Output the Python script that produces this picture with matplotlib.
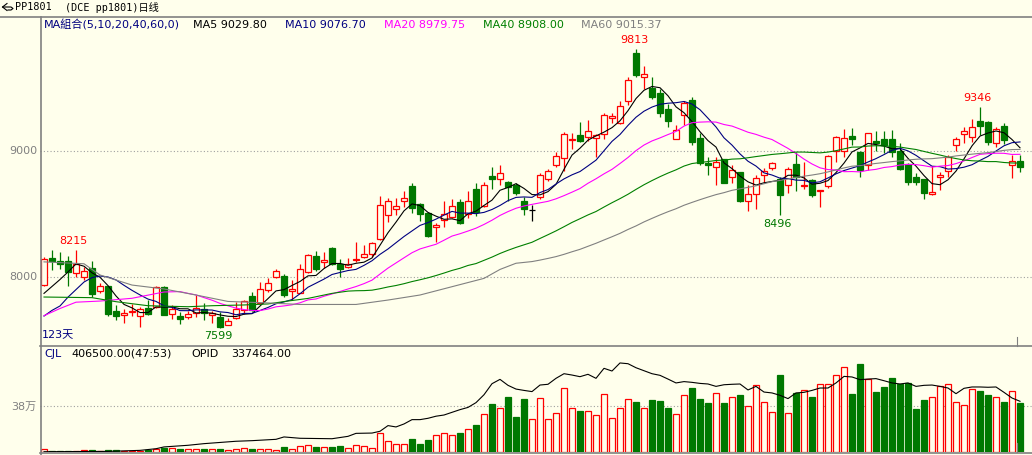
import matplotlib
matplotlib.use('Agg')
import matplotlib.pyplot as plt
from matplotlib.patches import Rectangle
import numpy as np
import pandas as pd

# PP1801 daily candles, 123 trading days (oldest first)
opens = [7940, 8150, 8125, 8125, 8029, 7997, 8071, 7886, 7928, 7730,
         7696, 7722, 7688, 7754, 7764, 7918, 7706, 7690, 7680, 7717,
         7743, 7696, 7685, 7622, 7672, 7738, 7849, 7791, 7897, 7997,
         8005, 7886, 7875, 8037, 8166, 8119, 8227, 8100, 8076, 8132,
         8161, 8179, 8298, 8489, 8537, 8605, 8722, 8579, 8507, 8394,
         8449, 8478, 8595, 8500, 8695, 8563, 8801, 8775, 8754, 8732,
         8605, 8532, 8633, 8781, 8892, 8945, 9088, 9127, 9114, 9104,
         9135, 9260, 9225, 9395, 9781, 9591, 9501, 9458, 9331, 9098,
         9284, 9405, 9104, 8908, 8876, 8934, 8797, 8834, 8606, 8659,
         8813, 8863, 8781, 8728, 8897, 8723, 8770, 8680, 8723, 8998,
         8998, 9119, 8992, 8887, 9077, 9093, 9093, 9003, 8897, 8794,
         8775, 8656, 8791, 8839, 9045, 9135, 9109, 9236, 9231, 9061,
         9199, 8892, 8918]
highs = [8155, 8214, 8198, 8166, 8215, 8077, 8124, 7955, 7930, 7778,
         7743, 7786, 7764, 7817, 7929, 7929, 7778, 7725, 7727, 7860,
         7791, 7733, 7725, 7672, 7804, 7817, 7884, 7963, 7990, 8063,
         8024, 7976, 8103, 8182, 8203, 8198, 8240, 8145, 8153, 8275,
         8254, 8277, 8642, 8627, 8629, 8682, 8748, 8584, 8518, 8431,
         8605, 8616, 8616, 8680, 8743, 8754, 8875, 8891, 8764, 8748,
         8637, 8572, 8823, 8855, 8993, 9151, 9146, 9231, 9247, 9135,
         9300, 9300, 9400, 9591, 9813, 9675, 9585, 9490, 9374, 9204,
         9400, 9432, 9141, 8956, 8956, 8934, 8889, 8834, 8731, 8807,
         8863, 8916, 8797, 8871, 8995, 8916, 8781, 8691, 8966, 9119,
         9172, 9183, 8998, 9141, 9157, 9157, 9167, 9067, 8902, 8823,
         8781, 8881, 8834, 8966, 9109, 9194, 9252, 9346, 9241, 9194,
         9225, 8971, 8966]
lows = [7925, 8055, 8066, 7931, 8003, 7976, 7844, 7876, 7690, 7659,
        7637, 7690, 7606, 7700, 7751, 7696, 7664, 7624, 7666, 7685,
        7659, 7632, 7599, 7619, 7664, 7706, 7733, 7786, 7884, 7990,
        7838, 7817, 7870, 8029, 8050, 8068, 8095, 7997, 8068, 8119,
        8150, 8161, 8293, 8439, 8492, 8553, 8510, 8444, 8320, 8280,
        8394, 8465, 8420, 8465, 8486, 8558, 8695, 8727, 8605, 8648,
        8494, 8448, 8617, 8765, 8876, 8839, 9019, 9069, 9083, 8950,
        9093, 9225, 9215, 9363, 9591, 9495, 9416, 9268, 9194, 9098,
        9204, 9048, 8887, 8813, 8728, 8744, 8744, 8596, 8527, 8543,
        8744, 8850, 8496, 8664, 8680, 8701, 8633, 8558, 8707, 8913,
        8955, 9045, 8791, 8850, 8998, 8987, 8955, 8850, 8728, 8728,
        8622, 8649, 8691, 8791, 8998, 9067, 9072, 9130, 9045, 9035,
        9056, 8786, 8834]
closes = [8140, 8130, 8105, 8040, 8103, 8050, 7868, 7928, 7709, 7693,
          7714, 7730, 7743, 7709, 7918, 7701, 7743, 7669, 7706, 7754,
          7717, 7717, 7600, 7653, 7743, 7810, 7738, 7902, 7950, 8048,
          7860, 7904, 8060, 8174, 8063, 8134, 8103, 8063, 8103, 8140,
          8179, 8270, 8568, 8600, 8560, 8627, 8545, 8502, 8328, 8412,
          8502, 8563, 8431, 8600, 8518, 8727, 8775, 8822, 8711, 8669,
          8537, 8532, 8810, 8839, 8958, 9133, 9098, 9083, 9159, 9125,
          9284, 9276, 9355, 9561, 9606, 9612, 9427, 9305, 9241, 9167,
          9379, 9075, 8903, 8887, 8913, 8749, 8850, 8606, 8659, 8784,
          8839, 8903, 8654, 8855, 8791, 8728, 8654, 8691, 8961, 9109,
          9104, 9098, 8850, 9141, 9061, 9045, 8992, 8855, 8754, 8754,
          8670, 8672, 8812, 8950, 9098, 9157, 9188, 9199, 9072, 9178,
          9088, 8918, 8871]

# volume in 10k lots (万)
volumes = [2.8, 0.8, 0.8, 0.8, 1.1, 1.7, 1.7, 0.8, 1.7, 1.7,
           0.8, 0.8, 1.1, 1.4, 2.2, 3.6, 3.6, 2.8, 2.8, 2.8,
           2.8, 2.8, 2.8, 1.7, 2.2, 3.3, 2.2, 2.2, 2.2, 1.9,
           4.1, 2.5, 5.2, 5.8, 4.1, 4.1, 4.1, 5.2, 3.3, 5.8,
           5.0, 3.3, 15.7, 9.1, 6.6, 6.6, 11.0, 6.9, 10.2, 14.0,
           15.4, 14.0, 16.0, 19.0, 22.6, 31.4, 39.9, 36.4, 45.7, 29.2,
           44.1, 27.3, 44.6, 27.3, 32.2, 52.9, 36.4, 34.1, 34.1, 30.6,
           47.9, 28.1, 36.4, 43.8, 41.6, 36.4, 43.2, 42.1, 36.6, 31.4,
           47.1, 53.2, 44.1, 40.8, 48.7, 40.8, 45.4, 47.4, 38.0, 55.4,
           41.3, 33.0, 63.9, 32.2, 48.7, 51.2, 45.7, 56.2, 56.2, 63.9,
           70.2, 48.2, 73.0, 60.3, 49.8, 54.0, 61.4, 56.5, 57.3, 35.8,
           43.2, 45.4, 54.5, 56.2, 41.3, 38.8, 52.0, 50.7, 47.4, 45.4,
           41.6, 50.4, 40.65]

# open interest line (own scale, 万)
opid_idx = [0, 8, 12, 14, 15, 18, 20, 24, 26, 29, 30, 32, 36, 38, 39, 41,
            42, 43, 44, 45, 46, 47, 48, 49, 50, 51, 52, 53, 54, 55] + list(range(56, 123))
opid_val = [0.2, 0.4, 1.1, 2.2, 3.4, 4.5, 5.6, 7.2, 7.6, 8.5, 10.1, 9.2, 8.9, 10.5, 12.5, 12.7,
            13.9, 17.7, 16.8, 18.8, 21.7, 21.7, 22.6, 24.0, 24.8, 26.6, 28.4, 29.9, 33.1, 38.4,
            45.8, 48.7, 44.7, 42.2, 41.3, 40.5, 44.9, 45.4, 49.4, 52.5,
            51.6, 50.5, 52.1, 49.4, 56.1, 54.3, 59.7, 59.2, 56.5, 54.5,
            52.5, 51.4, 48.9, 46.3, 47.2, 46.7, 46.0, 45.6, 44.0, 45.1,
            45.4, 45.6, 41.6, 44.0, 40.2, 39.6, 38.0, 35.8, 39.6, 40.0,
            41.3, 42.9, 42.9, 46.3, 50.7, 50.3, 48.5, 48.9, 49.2, 47.8,
            46.3, 45.6, 46.3, 44.0, 44.7, 44.9, 44.0, 42.9, 39.1, 42.7,
            43.6, 43.6, 43.4, 43.6, 40.0, 36.2, 34.0]

ma_windows = [5, 10, 20, 40, 60]
ma_colors = ['#000000', '#000080', '#FF00FF', '#008000', '#808080']
ma_warm_idx = [
    [0, 1, 2, 3],
    [0, 1, 2, 3, 4, 5, 6, 7, 8],
    [0, 2, 4, 7, 11, 15, 17, 18],
    [0, 6, 9, 13, 18, 21, 25, 28, 30, 33, 36, 38],
    [0, 5, 7, 11, 15, 19, 23, 28, 32, 39, 43, 47, 51, 55, 57],
]
ma_warm_val = [
    [7870, 7925, 7980, 8040],
    [7690, 7735, 7770, 7840, 7900, 7960, 7995, 8008, 8000],
    [7693, 7750, 7800, 7809, 7831, 7881, 7884, 7870],
    [7841, 7836, 7804, 7772, 7764, 7772, 7778, 7786, 7805, 7830, 7870, 7888],
    [8120, 8105, 8016, 7936, 7905, 7857, 7806, 7794, 7782, 7782, 7817, 7857, 7923, 7989, 8060],
]
legend_labels = ['MA5 9029.80', 'MA10 9076.70', 'MA20 8979.75', 'MA40 8908.00', 'MA60 9015.37']
legend_x = [193, 285, 384, 483, 581]

BG = '#FFFFEC'
RED = '#FF0000'
GREEN = '#007800'
NAVY = '#000080'
GRID = '#A0A0A0'
FONT = ['DejaVu Sans', 'Noto Sans CJK SC']
MONO = ['DejaVu Sans Mono', 'Noto Sans CJK SC']

W, H = 1032, 455
fig = plt.figure(figsize=(W / 100, H / 100), dpi=100)
fig.patch.set_facecolor(BG)


def rect(left, top, right, bottom):
    return [left / W, 1 - bottom / H, (right - left) / W, (bottom - top) / H]


def ftext(x, y, s, **kw):
    kw.setdefault('family', FONT)
    kw.setdefault('fontsize', 8)
    fig.text(x / W, 1 - y / H, s, va='center', **kw)


def fline(xs_px, ys_px, **kw):
    fig.add_artist(plt.Line2D([x / W for x in xs_px], [1 - y / H for y in ys_px], **kw))


n = len(closes)

# price panel
ax = fig.add_axes(rect(40, 17, W, 346))
ax.set_facecolor(BG)
ax.set_xlim(-0.5, 123.5)
ax.set_ylim(9000 - 195 * 7.937, 9000 + 134 * 7.937)
ax.axis('off')
for lvl in [8000, 9000]:
    ax.axhline(lvl, color=GRID, lw=0.8, ls=(0, (1, 2)), zorder=0)

bw = 0.72
for i in range(n):
    o, h, l, c = opens[i], highs[i], lows[i], closes[i]
    if c == o:
        ax.vlines(i, l, h, color='black', lw=0.9, zorder=2)
        ax.hlines(c, i - bw / 2, i + bw / 2, color='black', lw=0.9, zorder=2)
        continue
    up = c > o
    col = RED if up else GREEN
    lo, hi = min(o, c), max(o, c)
    ax.vlines(i, l, h, color=col, lw=0.9, zorder=2)
    body_h = max(hi - lo, 10)
    ax.add_patch(Rectangle((i - bw / 2, lo), bw, body_h,
                           facecolor=BG if up else GREEN, edgecolor=col,
                           lw=0.9, zorder=3))

s_close = pd.Series(closes, dtype=float)
for w, col, wi, wv in zip(ma_windows, ma_colors, ma_warm_idx, ma_warm_val):
    ma = s_close.rolling(w).mean()
    mx = list(wi) + list(range(w - 1, n))
    my = list(wv) + list(ma.iloc[w - 1:])
    ax.plot(mx, my, color=col, lw=0.8, zorder=4)

# high / low marks
marks = [(4, highs[4], '8215', RED, -2.5, 9), (22, lows[22], '7599', GREEN, -2, -8),
         (74, highs[74], '9813', RED, -2, 9), (92, lows[92], '8496', GREEN, -2.5, -9.5),
         (117, highs[117], '9346', RED, -3, 9.5)]
for k, p, s, col, dx, dy in marks:
    ax.annotate(s, (k, p), xytext=(dx, dy), textcoords='offset pixels',
                ha='center', va='center', color=col, fontsize=8, family=FONT, zorder=5)

# volume panel
axv = fig.add_axes(rect(40, 346, W, 452))
axv.set_facecolor(BG)
axv.set_xlim(-0.5, 123.5)
axv.set_ylim(0, 106 * 0.826)
axv.axis('off')
axv.axhline(38, color=GRID, lw=0.8, ls=(0, (1, 2)), zorder=0)
for i in range(n):
    up = closes[i] >= opens[i]
    axv.add_patch(Rectangle((i - 0.37, 0), 0.74, volumes[i],
                            facecolor=BG if up else GREEN,
                            edgecolor=RED if up else GREEN, lw=0.9, zorder=2))

axo = fig.add_axes(rect(40, 346, W, 452))
axo.patch.set_alpha(0)
axo.set_xlim(-0.5, 123.5)
axo.set_ylim(0, 106 * 0.6705)
axo.axis('off')
axo.plot(opid_idx, opid_val, color='black', lw=0.8, zorder=4)

# frame lines
fline([0, W], [16.5, 16.5], color='#808080', lw=1.2)
fline([40.5, 40.5], [17, H], color='#808080', lw=1.2)
fline([40, W], [346, 346], color='#808080', lw=1.2)
fline([40, W], [452.5, 452.5], color='#808080', lw=1.2)
fline([1016.5, 1016.5], [337, 346], color='#808080', lw=0.8)
fline([1016.5, 1016.5], [443, 452], color='#808080', lw=0.8)

# small menu icon at top-left
fline([7, 2.5, 7], [3.5, 7, 10.5], color='black', lw=0.8)
fline([2.5, 11, 13, 11, 8], [7, 7, 8.5, 10, 10], color='black', lw=0.8)

# texts
ftext(15, 7.5, 'PP1801', family=MONO, fontsize=7.3)
ftext(65, 7.5, '(DCE pp1801)日线', family=MONO, fontsize=7.3)
ftext(44, 25, 'MA組合(5,10,20,40,60,0)', color=NAVY)
for s, x, col in zip(legend_labels, legend_x, ma_colors):
    ftext(x, 25, s, color=col)
ftext(37, 151, '9000', color='#808080', ha='right')
ftext(37, 277, '8000', color='#808080', ha='right')
ftext(36, 407, '38万', color='#808080', ha='right')
ftext(42, 335, '123天', color=NAVY)
ftext(44, 354, 'CJL', color=NAVY)
ftext(71, 354, '406500.00(47:53)', color='black')
ftext(191, 354, 'OPID', color='black')
ftext(231, 354, '337464.00', color='black')

fig.savefig('out.png', dpi=100, facecolor=BG)
